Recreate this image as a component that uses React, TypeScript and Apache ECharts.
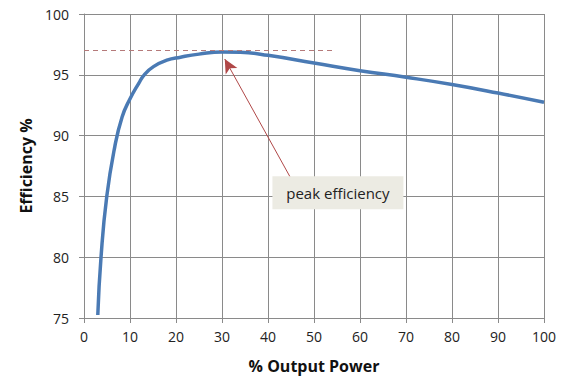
import React, { useEffect, useRef } from "react";
import * as echarts from "echarts";

const xValues = [3, 3.7, 4.95, 6.7, 8.3, 9.9, 11.9, 13.1, 15.1, 18, 21, 25, 30, 34, 40, 50, 60, 70, 80, 90, 100];
const efficiency = [75.25, 80, 85, 89.1, 91.55, 92.95, 94.3, 95, 95.67, 96.2, 96.45, 96.7, 96.88, 96.85, 96.6, 95.97, 95.34, 94.8, 94.2, 93.5, 92.74];
const peakLine = [[0, 97.05], [54, 97.05]];
const arrowLine = [[44.8, 86.6], [30.6, 96.3]];
const noteCoord = [55.2, 85.3];
const noteText = "peak efficiency";
const xTitle = "% Output Power";
const yTitle = "Efficiency %";

export default function App() {
  const ref = useRef<HTMLDivElement>(null);
  useEffect(() => {
    const chart = echarts.init(ref.current!, null, { renderer: "svg" });
    const font = "'Open Sans', 'Noto Sans', sans-serif";
    const gridColor = "#8a8a8a";
    chart.setOption({
      animation: false,
      grid: { left: 84, right: 26, top: 14, bottom: 68 },
      xAxis: {
        type: "value",
        min: 0,
        max: 100,
        interval: 10,
        name: xTitle,
        nameLocation: "middle",
        nameGap: 40,
        nameTextStyle: { fontFamily: font, fontWeight: "bold", fontSize: 16, color: "#111" },
        axisLine: { lineStyle: { color: gridColor } },
        axisTick: { show: true, length: 5, lineStyle: { color: gridColor } },
        axisLabel: { fontFamily: font, fontSize: 14, color: "#222", margin: 11 },
        splitLine: { show: true, lineStyle: { color: gridColor, width: 1 } },
      },
      yAxis: {
        type: "value",
        min: 75,
        max: 100,
        interval: 5,
        name: yTitle,
        nameLocation: "middle",
        nameGap: 49,
        nameTextStyle: { fontFamily: font, fontWeight: "bold", fontSize: 16, color: "#111" },
        axisLine: { show: true, lineStyle: { color: gridColor } },
        axisTick: { show: true, length: 5, lineStyle: { color: gridColor } },
        axisLabel: { fontFamily: font, fontSize: 14, color: "#222", margin: 15 },
        splitLine: { show: true, lineStyle: { color: gridColor, width: 1 } },
      },
      series: [
        {
          type: "line",
          data: xValues.map((x, i) => [x, efficiency[i]]),
          smooth: 0.5,
          showSymbol: false,
          lineStyle: { color: "#4a7ab4", width: 3.5 },
          z: 3,
          markLine: {
            silent: true,
            symbol: ["none", "none"],
            label: { show: false },
            data: [
              [
                { coord: peakLine[0], lineStyle: { color: "#b57a7a", type: [5, 4], width: 1.2 }, symbol: "none" },
                { coord: peakLine[1], symbol: "none" },
              ],
              [
                { coord: arrowLine[0], lineStyle: { color: "#b04848", type: "solid", width: 1 }, symbol: "none" },
                { coord: arrowLine[1], symbol: "arrow", symbolSize: [10, 14] },
              ],
            ],
          },
          markPoint: {
            silent: true,
            data: [
              {
                coord: noteCoord,
                symbol: "rect",
                symbolSize: [131, 33],
                itemStyle: { color: "#ecebe3" },
                label: {
                  show: true,
                  formatter: noteText,
                  fontFamily: font,
                  fontSize: 15,
                  color: "#222",
                },
              },
            ],
          },
        },
      ],
    });
    return () => chart.dispose();
  }, []);
  return <div ref={ref} style={{ width: 570, height: 386, position: "absolute", left: 0, top: 0, background: "#fff" }} />;
}
